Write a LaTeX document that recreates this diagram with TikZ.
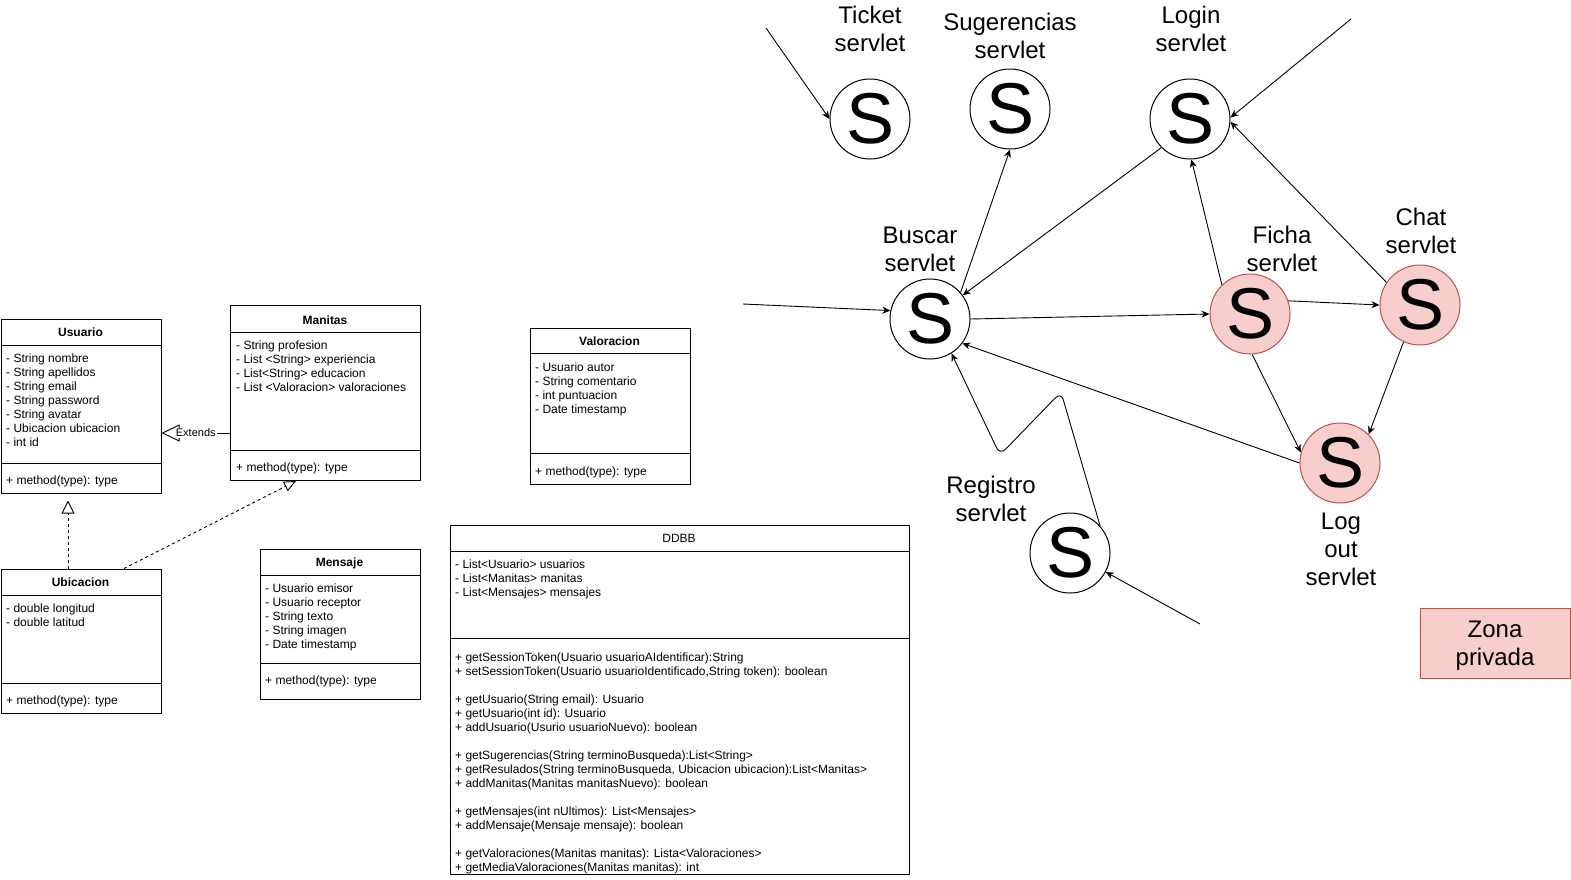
\documentclass[tikz,border=0pt]{standalone}
\usepackage{fontspec}
\setmainfont{Liberation Sans}
\usetikzlibrary{arrows.meta}
\definecolor{pinkfill}{HTML}{F8CECC}
\definecolor{pinkline}{HTML}{B85450}
\begin{document}
\begin{tikzpicture}[x=1pt,y=-1pt,
  cbox/.style={draw, line width=1pt, anchor=north west, inner sep=0pt},
  sepline/.style={line width=1pt},
  ctitle/.style={anchor=base, inner sep=0pt, yshift=-1.5pt, font=\bfseries\fontsize{12}{14}\selectfont},
  cplain/.style={anchor=base, inner sep=0pt, yshift=-1.5pt, font=\fontsize{12}{14}\selectfont},
  cattr/.style={anchor=base west, inner sep=0pt, yshift=-1.5pt, font=\fontsize{12}{14}\selectfont},
  sv/.style={circle, draw, line width=1pt, minimum size=80pt, inner sep=0pt, font=\fontsize{72}{80}\selectfont},
  svpriv/.style={sv, fill=pinkfill, draw=pinkline},
  slabel/.style={align=center, inner sep=0pt, yshift=-1.5pt, font=\fontsize{24}{28}\selectfont},
  zbox/.style={draw=pinkline, fill=pinkfill, line width=1pt, minimum width=150pt, minimum height=70pt, inner sep=0pt, text depth=0pt, align=center, font=\fontsize{24}{28}\selectfont},
  cconn/.style={line width=0.9pt, -{Stealth[length=8pt,width=7pt,inset=2.5pt]}},
  umlline/.style={line width=0.9pt},
  dashline/.style={umlline, dash pattern=on 3pt off 3pt},
  extlabel/.style={fill=white, inner sep=1pt, font=\fontsize{11}{13}\selectfont}
]
\useasboundingbox (0,0) rectangle (1571,879);

% ---------- Usuario ----------
\node[cbox, minimum width=160pt, minimum height=174pt] (usuario) at (0.5,318.5) {};
\draw[sepline] (usuario.west |- 0,345) -- (usuario.east |- 0,345);
\draw[sepline] (usuario.west |- 0,463) -- (usuario.east |- 0,463);
\node[ctitle] (usuarioT) at (80.5,335) {Usuario};
\node[cattr] (usuarioA) at (6,361) {\vtop{\hbox{- String nombre}\hbox{- String apellidos}\hbox{- String email}\hbox{- String password}\hbox{- String avatar}\hbox{- Ubicacion ubicacion}\hbox{- int id}}};
\node[cattr] (usuarioM) at (6,483) {+ method(type): type};

% ---------- Manitas ----------
\node[cbox, minimum width=190pt, minimum height=175pt] (manitas) at (230,305) {};
\draw[sepline] (manitas.west |- 0,332) -- (manitas.east |- 0,332);
\draw[sepline] (manitas.west |- 0,450) -- (manitas.east |- 0,450);
\node[ctitle] (manitasT) at (325,323) {Manitas};
\node[cattr] (manitasA) at (236,348) {\vtop{\hbox{- String profesion}\hbox{- List <String> experiencia}\hbox{- List<String> educacion}\hbox{- List <Valoracion> valoraciones}}};
\node[cattr] (manitasM) at (236,470) {+ method(type): type};

% ---------- Valoracion ----------
\node[cbox, minimum width=160pt, minimum height=156pt] (valoracion) at (529.5,327.5) {};
\draw[sepline] (valoracion.west |- 0,353) -- (valoracion.east |- 0,353);
\draw[sepline] (valoracion.west |- 0,453) -- (valoracion.east |- 0,453);
\node[ctitle] (valoracionT) at (609.5,344) {Valoracion};
\node[cattr] (valoracionA) at (535,370) {\vtop{\hbox{- Usuario autor}\hbox{- String comentario}\hbox{- int puntuacion}\hbox{- Date timestamp}}};
\node[cattr] (valoracionM) at (535,474) {+ method(type): type};

% ---------- Ubicacion ----------
\node[cbox, minimum width=160pt, minimum height=144pt] (ubicacion) at (0.5,568.5) {};
\draw[sepline] (ubicacion.west |- 0,595) -- (ubicacion.east |- 0,595);
\draw[sepline] (ubicacion.west |- 0,683) -- (ubicacion.east |- 0,683);
\node[ctitle] (ubicacionT) at (80.5,585) {Ubicacion};
\node[cattr] (ubicacionA) at (6,611) {\vtop{\hbox{- double longitud}\hbox{- double latitud}}};
\node[cattr] (ubicacionM) at (6,703) {+ method(type): type};

% ---------- Mensaje ----------
\node[cbox, minimum width=160pt, minimum height=150pt] (mensaje) at (259.5,548.5) {};
\draw[sepline] (mensaje.west |- 0,575) -- (mensaje.east |- 0,575);
\draw[sepline] (mensaje.west |- 0,663) -- (mensaje.east |- 0,663);
\node[ctitle] (mensajeT) at (339.5,565) {Mensaje};
\node[cattr] (mensajeA) at (265,591) {\vtop{\hbox{- Usuario emisor}\hbox{- Usuario receptor}\hbox{- String texto}\hbox{- String imagen}\hbox{- Date timestamp}}};
\node[cattr] (mensajeM) at (265,683) {+ method(type): type};

% ---------- DDBB ----------
\node[cbox, minimum width=459pt, minimum height=349pt] (ddbb) at (449.5,524.5) {};
\draw[sepline] (ddbb.west |- 0,551) -- (ddbb.east |- 0,551);
\draw[sepline] (ddbb.west |- 0,638) -- (ddbb.east |- 0,638);
\node[cplain] (ddbbT) at (679,541) {DDBB};
\node[cattr] (ddbbA) at (455,567) {\vtop{\hbox{- List<Usuario> usuarios}\hbox{- List<Manitas> manitas}\hbox{- List<Mensajes> mensajes}}};
\node[cattr] (ddbbM) at (455,659.5) {\vtop{%
\hbox{+ getSessionToken(Usuario usuarioAIdentificar):String}%
\hbox{+ setSessionToken(Usuario usuarioIdentificado,String token): boolean}%
\hbox{}%
\hbox{+ getUsuario(String email): Usuario}%
\hbox{+ getUsuario(int id): Usuario}%
\hbox{+ addUsuario(Usurio usuarioNuevo): boolean}%
\hbox{}%
\hbox{+ getSugerencias(String terminoBusqueda):List<String>}%
\hbox{+ getResulados(String terminoBusqueda, Ubicacion ubicacion):List<Manitas>}%
\hbox{+ addManitas(Manitas manitasNuevo): boolean}%
\hbox{}%
\hbox{+ getMensajes(int nUltimos): List<Mensajes>}%
\hbox{+ addMensaje(Mensaje mensaje): boolean}%
\hbox{}%
\hbox{+ getValoraciones(Manitas manitas): Lista<Valoraciones>}%
\hbox{+ getMediaValoraciones(Manitas manitas): int}}};

% ---------- UML relations ----------
\draw[umlline, -{Triangle[fill=white,length=18pt,width=17pt]}] (manitas.west |- 0,433) -- node[extlabel] (extl) {Extends} (usuario.east |- 0,433);
\draw[dashline, -{Triangle[fill=white,length=13pt,width=13pt]}] ([xshift=67.5pt]ubicacion.north west) -- ([xshift=67.5pt,yshift=-7pt]usuario.south west);
\draw[dashline, -{Triangle[fill=white,length=12pt,width=10.5pt]}] ([xshift=123.5pt]ubicacion.north west) -- ([xshift=66pt]manitas.south west);

% ---------- Servlets ----------
\node[sv] (ticket) at (870,119) {S};
\node[sv] (suger) at (1010,109) {S};
\node[sv] (login) at (1190,119) {S};
\node[sv] (buscar) at (930,319) {S};
\node[svpriv] (ficha) at (1250,314) {S};
\node[svpriv] (chat) at (1420,305) {S};
\node[svpriv] (logout) at (1340,463) {S};
\node[sv] (registro) at (1070,553) {S};

\node[slabel] (ticketL) at (870,27) {Ticket\\servlet};
\node[slabel] (sugerL) at (1010,34) {Sugerencias\\servlet};
\node[slabel] (loginL) at (1191,27) {Login\\servlet};
\node[slabel] (buscarL) at (920,248) {Buscar\\servlet};
\node[slabel] (fichaL) at (1282,247) {Ficha\\servlet};
\node[slabel] (chatL) at (1421,229) {Chat\\servlet};
\node[slabel] (registroL) at (991,497) {Registro\\servlet};
\node[slabel] (logoutL) at (1341,548) {Log\\out\\servlet};

\node[zbox] (zona) at (1495,643) {Zona\\privada};

% ---------- Connectors ----------
\coordinate (ticketIn) at (766,28);
\coordinate (buscarIn) at (743,304);
\coordinate (loginIn) at (1351,19);
\coordinate (registroIn) at (1200,624);
\coordinate (bend1) at (1061,392);
\coordinate (bend2) at (1000,455);

\draw[cconn] (ticketIn) -- (ticket.west);
\draw[cconn] (buscarIn) -- (buscar.168);
\draw[cconn] (buscar.41) -- (suger.south);
\draw[cconn] (login.225) -- (buscar.36);
\draw[cconn] (buscar.east) -- (ficha.west);
\draw[cconn] (loginIn) -- (login.2);
\draw[cconn] (ficha.134) -- (login.272);
\draw[cconn] (chat.146) -- (login.356);
\draw[cconn] (ficha.19) -- (chat.west);
\draw[cconn] (ficha.273) -- (logout.165);
\draw[cconn] (chat.246) -- (logout.45);
\draw[cconn] (logout.west) -- (buscar.323);
\draw[cconn, rounded corners=8pt] (registro.42) -- (bend1) -- (bend2) -- (buscar.302);
\draw[cconn] (registroIn) -- (registro.332);
\end{tikzpicture}
\end{document}
